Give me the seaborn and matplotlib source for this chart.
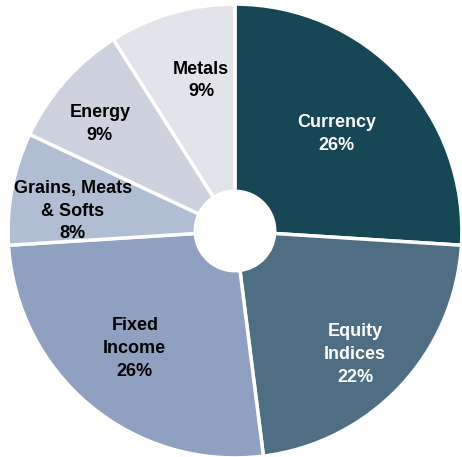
import numpy as np
import seaborn as sns
import matplotlib.pyplot as plt

# Sector weights (%)
categories = ["Currency", "Equity\nIndices", "Fixed\nIncome", "Grains, Meats\n& Softs", "Energy", "Metals"]
weights = [26, 22, 26, 8, 9, 9]
colors = ["#174755", "#4F6E84", "#90A0C1", "#B1BDD2", "#CDD2DE", "#E3E4EA"]
text_colors = ["white", "white", "black", "black", "black", "black"]

# label placement: distance from centre and small angle nudge from wedge middle
label_radius = [0.62, 0.76, 0.68, 0.72, 0.76, 0.68]
label_shift = [0.4, -2.7, -0.9, 3.8, 3.0, -3.5]

sns.set_theme(style="white")
plt.rcParams["font.family"] = ["Liberation Sans", "DejaVu Sans"]

fig = plt.figure(figsize=(4.62, 4.57), dpi=100)
ax = fig.add_axes([0, 0, 1, 1])

wedges, _ = ax.pie(weights, colors=colors, startangle=90, counterclock=False,
                   radius=1.0, wedgeprops=dict(width=0.825, edgecolor="white", linewidth=2.5))

for w, lab, pct, tc, r, sh in zip(wedges, categories, weights, text_colors, label_radius, label_shift):
    ang = np.deg2rad((w.theta1 + w.theta2) / 2 + sh)
    ax.text(r * np.cos(ang), r * np.sin(ang), f"{lab}\n{pct}%", ha="center", va="center",
            multialignment="center", color=tc, fontsize=13, fontweight="bold",
            linespacing=1.45)

ax.set_xlim(-1.035, 1.0)
ax.set_ylim(-0.996, 1.018)
ax.set_aspect("equal")
ax.axis("off")

plt.savefig("out.png", dpi=100)
plt.close()
